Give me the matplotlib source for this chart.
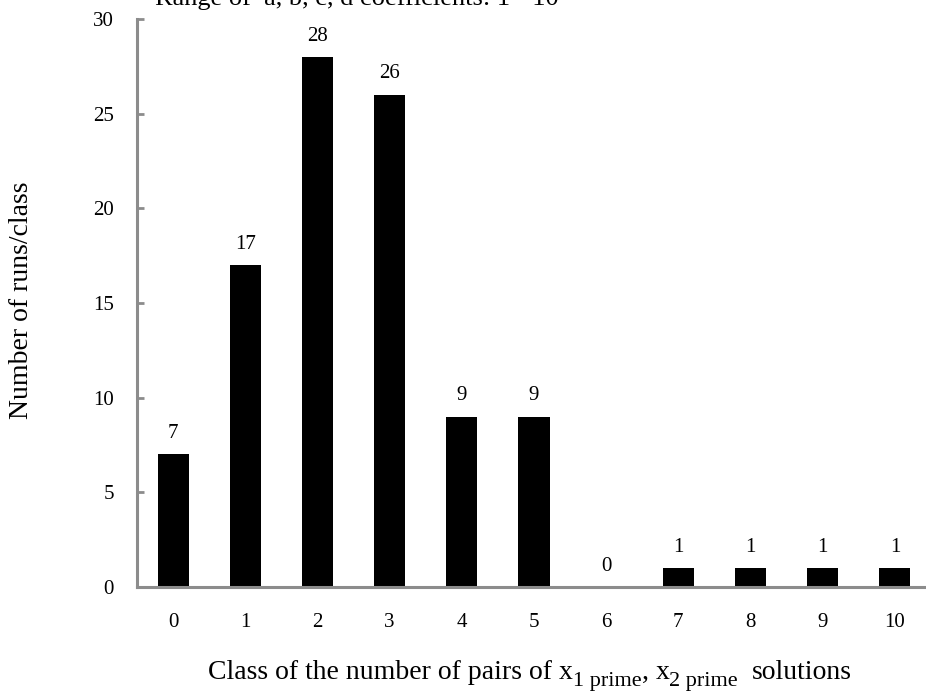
import matplotlib
matplotlib.use("Agg")
import matplotlib.pyplot as plt

classes = ["0", "1", "2", "3", "4", "5", "6", "7", "8", "9", "10"]
counts = [7, 17, 28, 26, 9, 9, 0, 1, 1, 1, 1]
yticks = [0, 5, 10, 15, 20, 25, 30]

plt.rcParams['font.family'] = ['Liberation Serif', 'DejaVu Serif']

W, H = 926, 692
fig = plt.figure(figsize=(W / 100, H / 100), dpi=100)
ax = fig.add_axes([137 / W, 1 - 587 / H, (931 - 137) / W, (587 - 19) / H])

x = list(range(len(classes)))
ax.bar(x, counts, width=0.43, color='black')
for xi, c in zip(x, counts):
    ax.text(xi, c + 0.6, str(c), ha='center', va='bottom', fontsize=15)

ax.set_xlim(-0.5, 10.5)
ax.set_ylim(0, 30)
ax.set_xticks(x)
ax.set_xticklabels(classes)
ax.set_yticks(yticks)
ax.tick_params(axis='x', length=0, pad=19, labelsize=15)
ax.tick_params(axis='y', direction='in', length=5, width=2, color='#8c8c8c', pad=16.5, labelsize=15)
for s in ['top', 'right']:
    ax.spines[s].set_visible(False)
for s in ['left', 'bottom']:
    ax.spines[s].set_color('#8c8c8c')
    ax.spines[s].set_linewidth(2.2)

fig.text(22 / W, 1 - 300 / H, "Number of runs/class", fontsize=20, rotation=90,
         ha='center', va='center')

fig.text(155 / W, 1 - 5 / H, "Range of  a, b, c, d coefficients: 1 - 10", fontsize=19,
         ha='left', va='baseline')

# x-axis title composed of pieces (main text + subscripts)
pieces = [("Class of the number of pairs of x", 20, 0),
          ("1 prime", 16, -7),
          (", x", 20, 0),
          ("2 prime", 16, -7),
          ("solutions", 20, 0)]
gaps = [0, 0, 0, 0, 14]
renderer = fig.canvas.get_renderer()
base_y = 679
texts = []
widths = []
for (s, fs, dy) in pieces:
    t = fig.text(0, 1 - (base_y - dy) / H, s, fontsize=fs, ha='left', va='baseline')
    texts.append(t)
    widths.append(t.get_window_extent(renderer).width)
total = sum(widths) + sum(gaps)
cx = 530
xpos = cx - total / 2
for t, w, g in zip(texts, widths, gaps):
    xpos += g
    t.set_x(xpos / W)
    xpos += w

fig.savefig("out.png", dpi=100)
